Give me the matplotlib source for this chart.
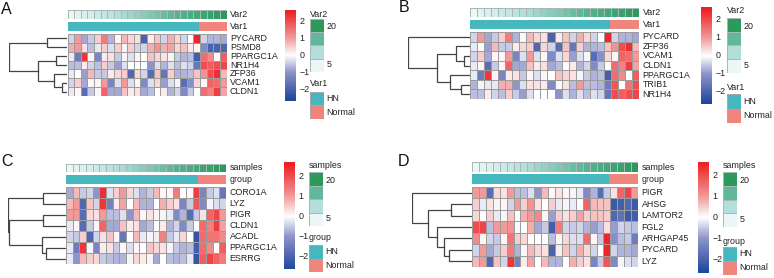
#!/usr/bin/env python3
import numpy as np
import matplotlib
matplotlib.use('Agg')
import matplotlib.pyplot as plt
from matplotlib.colors import LinearSegmentedColormap, ListedColormap, Normalize

plt.rcParams['font.family'] = ['Liberation Sans', 'DejaVu Sans']

W, H = 774, 278

# ── Valores por gene (24 amostras) ────────────────────────────────────────────
PYCARD   = [-0.4,1.0,-0.8,-0.5,0.5,1.4,-0.7,0.1,0.7,0.4,0.3,-2.0,0.2,0.6,-0.4,0.8,0.4,-0.4,0.0,2.5,-0.4,-0.7,-0.7,-0.8]
PSMD8    = [0.8,1.0,0.3,-0.6,-0.2,0.5,-0.3,0.5,-0.1,0.5,-0.4,-0.4,0.8,1.1,0.8,0.9,0.4,0.6,0.2,0.1,-1.2,-2.0,-2.0,-1.9]
PPARGC1A = [-0.2,-1.5,2.3,-0.1,-1.3,0.2,0.3,-0.5,0.1,-0.3,0.1,0.0,0.6,0.4,0.3,-0.1,-0.5,-0.7,-0.6,-2.1,1.6,1.2,0.0,1.8]
NR1H4    = [-0.6,-0.6,0.2,-0.4,-0.6,0.5,-0.5,-0.9,-0.3,0.0,0.0,0.0,-1.0,-0.3,-0.7,-0.3,-0.6,-0.3,-0.4,-1.6,2.0,1.8,2.0,2.1]
ZFP36    = [-0.2,0.0,-0.9,0.7,-0.5,-0.5,0.2,0.4,0.5,-1.9,0.4,-0.4,-1.8,0.6,-1.6,0.5,-0.7,-0.7,-0.6,0.6,1.1,2.0,2.4,0.7]
VCAM1    = [-0.4,0.5,-0.8,0.1,0.1,1.0,-1.3,-0.3,1.0,-0.3,0.1,-1.2,-0.3,0.4,-0.9,-0.3,-0.1,-1.8,-1.1,0.4,0.1,1.7,1.6,1.0]
CLDN1    = [-0.2,0.1,-1.8,-0.5,0.1,1.7,-0.8,-0.8,0.6,0.2,0.3,-0.8,-0.6,0.0,0.2,-0.7,-0.4,-1.2,-0.5,0.0,1.6,1.3,2.2,0.9]
TRIB1    = [-0.7,-0.1,-0.2,-0.2,0.8,0.8,-1.0,-0.3,0.3,0.3,0.2,-1.2,0.1,0.3,-0.6,1.0,-0.6,-0.6,-0.7,-1.5,1.9,0.0,1.5,2.0]
CORO1A   = [-0.8,0.7,-0.5,-0.4,-1.0,2.4,-0.3,0.5,1.0,0.4,-0.3,-0.7,-0.5,0.7,0.1,0.1,1.4,0.0,0.1,2.2,-1.3,-0.5,-0.3,-1.6]
LYZ      = [0.7,1.0,-1.9,0.6,-0.4,2.3,-1.4,0.2,0.9,0.0,0.7,-0.7,-0.7,0.0,0.8,0.5,0.3,-1.3,-0.5,1.9,-1.2,-0.1,-0.3,-0.4]
PIGR     = [1.0,1.0,-1.8,0.4,0.3,1.0,-0.6,-0.6,-0.3,-1.0,0.7,0.1,0.3,0.1,-0.1,-0.2,-1.2,-0.7,-1.8,-0.5,0.3,1.7,2.1,1.0]
ACADL    = [-0.4,-0.5,0.5,-1.9,-0.4,0.3,0.6,0.1,-1.6,0.0,0.7,-0.2,-0.1,0.2,1.3,-0.5,-0.2,0.4,0.0,-2.3,1.6,1.5,1.5,1.2]
ESRRG    = [-0.2,-1.0,0.7,0.5,0.4,-0.5,-0.6,-0.7,-0.7,-0.1,0.4,0.2,-0.1,-0.8,0.0,-0.6,-0.7,-0.6,-0.2,-2.3,1.8,2.1,1.7,1.4]
AHSG     = [0.5,-0.2,0.3,-0.1,0.1,-0.4,1.0,0.5,1.1,0.3,0.0,0.5,-0.2,-0.1,-0.2,0.0,1.7,0.7,0.6,0.6,-2.2,-2.1,-1.9,-2.2]
LAMTOR2  = [0.4,0.0,0.5,-0.2,-0.1,0.6,0.0,0.8,1.0,1.2,-0.1,-0.9,0.5,0.3,0.5,0.9,0.5,0.6,0.6,0.5,-1.9,-1.7,-2.2,-2.1]
FGL2     = [2.0,2.1,-0.6,1.0,1.0,1.1,0.0,0.0,0.8,-0.8,-0.5,-2.1,1.4,-0.4,-0.5,-0.4,-0.7,-0.9,-0.6,0.3,-0.9,-0.4,-0.5,-0.6]
ARHGAP45 = [1.2,0.1,-0.4,-0.5,0.1,1.5,0.5,0.4,0.0,0.0,0.0,-0.6,0.1,0.4,-0.3,-0.3,1.6,0.1,-0.5,2.5,-1.1,-0.6,-0.5,-1.5]

SAMPLES = [1,2,3,4,5,6,7,8,9,10,11,12,13,14,15,16,17,18,19,20,21,22,23,24]
GROUP   = [0,0,0,0,0,0,0,0,0,0,0,0,0,0,0,0,0,0,0,0,1,1,1,1]
GROUP_NAMES = ['HN', 'Normal']
CBAR_TICKS = [2, 1, 0, -1, -2]

# ── Genes e árvores por painel: (ramo esquerdo, ramo direito, altura) ─────────
GENES_A = ['PYCARD','PSMD8','PPARGC1A','NR1H4','ZFP36','VCAM1','CLDN1']
ROWS_A  = [PYCARD, PSMD8, PPARGC1A, NR1H4, ZFP36, VCAM1, CLDN1]
TREE_A  = [(0,1,20),(2,3,11),(5,6,5),(4,9,13),(8,10,29),(7,11,58)]

GENES_B = ['PYCARD','ZFP36','VCAM1','CLDN1','PPARGC1A','TRIB1','NR1H4']
ROWS_B  = [PYCARD, ZFP36, VCAM1, CLDN1, PPARGC1A, TRIB1, NR1H4]
TREE_B  = [(2,3,6),(1,7,14),(5,6,9),(4,9,20),(8,10,33),(0,11,62)]

GENES_C = ['CORO1A','LYZ','PIGR','CLDN1','ACADL','PPARGC1A','ESRRG']
ROWS_C  = [CORO1A, LYZ, PIGR, CLDN1, ACADL, PPARGC1A, ESRRG]
TREE_C  = [(0,1,23),(2,3,23),(5,6,20),(4,9,24),(8,10,57),(7,11,58)]

GENES_D = ['PIGR','AHSG','LAMTOR2','FGL2','ARHGAP45','PYCARD','LYZ']
ROWS_D  = [PIGR, AHSG, LAMTOR2, FGL2, ARHGAP45, PYCARD, LYZ]
TREE_D  = [(1,2,21),(5,6,23),(4,8,28),(3,9,35),(7,10,44),(0,11,60)]

# ── Cores ─────────────────────────────────────────────────────────────────────
GRID = '#9c9c9c'
heat_norm = Normalize(-2.6, 2.6)
heat_cmap = LinearSegmentedColormap.from_list('heat', [
    (0.0, '#22479d'), (1.6 / 5.2, '#8e94ca'), (0.5, '#ffffff'), (3.6 / 5.2, '#f29a9a'), (1.0, '#ee2024')])
samp_cmap = LinearSegmentedColormap.from_list('samp', ['#ecf6f6', '#aedcd8', '#5cb598', '#2b9a5c'])
group_cmap = ListedColormap(['#46b7be', '#f0857e'])

# ── Posição em pixels de cada painel ──────────────────────────────────────────
LAYOUT = {
    'A': dict(letter=(1, 9), heat=(67.5, 34, 226.5, 96), top=(10, 19), bot=(22, 31), tree=9, cbar=(285, 9.5, 296, 101),
              vmax=2.7, vmin=-2.68, sw1=(310, 19, 324, 72), sw2=(310, 92, 324, 119), t1=14.5, t2=84),
    'B': dict(letter=(399, 8), heat=(470, 32, 639, 99), top=(8, 17), bot=(20, 29), tree=408, cbar=(701, 7, 712, 104),
              vmax=2.72, vmin=-2.67, sw1=(727, 18, 741, 73), sw2=(727, 94, 741, 123), t1=10.5, t2=87),
    'C': dict(letter=(1, 161), heat=(66, 187, 226, 264), top=(164, 172), bot=(175, 184), tree=8, cbar=(284, 162, 295, 269),
              vmax=2.7, vmin=-2.6, sw1=(309, 172, 323, 226), sw2=(309, 245, 323, 272), t1=166, t2=237),
    'D': dict(letter=(398, 161), heat=(472, 187, 638, 267), top=(162, 172), bot=(174, 184), tree=412, cbar=(698, 162, 709, 273),
              vmax=2.65, vmin=-2.65, sw1=(723, 172, 737, 227), sw2=(723, 247, 737, 275), t1=166, t2=242),
}


def box(x0, y0, x1, y1):
    """Cria um eixo a partir de pixels (origem no canto superior esquerdo)."""
    ax = fig.add_axes([x0 / W, 1 - y1 / H, (x1 - x0) / W, (y1 - y0) / H])
    ax.set_xticks([])
    ax.set_yticks([])
    for s in ax.spines.values():
        s.set_visible(False)
    return ax


def label(x, y, s, size=6.4, **kw):
    fig.text(x / W, 1 - y / H, s, fontsize=size, va='center', ha='left', color='#222222', **kw)


def cells(ax, values, cmap, norm, grid=GRID):
    ax.pcolormesh(np.array(values, float), cmap=cmap, norm=norm, edgecolors=grid, linewidth=0.7)
    ax.set_ylim(len(values), 0)


def draw_tree(ax, tree):
    pos = {i: i + 0.5 for i in range(7)}
    hgt = {i: 0 for i in range(7)}
    for k, (a, b, h) in enumerate(tree):
        ax.plot([hgt[a], h, h, hgt[b]], [pos[a], pos[a], pos[b], pos[b]], color='#444444', lw=0.9, solid_joinstyle='miter')
        pos[7 + k] = (pos[a] + pos[b]) / 2
        hgt[7 + k] = h


def panel(name, genes, rows, tree, top_name, bot_name):
    L = LAYOUT[name]
    fig.text(L['letter'][0] / W, 1 - L['letter'][1] / H, name, fontsize=11.5, va='center', ha='left', color='#111111')
    x0, y0, x1, y1 = L['heat']

    ax = box(x0, y0, x1, y1)
    cells(ax, rows, heat_cmap, heat_norm)
    row_h = (y1 - y0) / len(genes)
    for i, g in enumerate(genes):
        label(x1 + 3.5, y0 + (i + 0.5) * row_h, g)

    ax = box(x0, L['top'][0], x1, L['top'][1])
    cells(ax, [SAMPLES], samp_cmap, Normalize(1, 24), grid='#a8b8b4')
    label(x1 + 3.5, sum(L['top']) / 2, top_name)
    ax = box(x0, L['bot'][0], x1, L['bot'][1])
    ax.pcolormesh(np.array([GROUP]), cmap=group_cmap, vmin=0, vmax=1, edgecolors='face', linewidth=0.3)
    label(x1 + 3.5, sum(L['bot']) / 2, bot_name)

    ax = box(L['tree'], y0, x0, y1)
    draw_tree(ax, tree)
    ax.set_xlim(x0 - L['tree'], 0)
    ax.set_ylim(7, 0)
    ax.patch.set_alpha(0)

    cx0, cy0, cx1, cy1 = L['cbar']
    ax = box(cx0, cy0, cx1, cy1)
    ax.imshow(np.linspace(L['vmax'], L['vmin'], 256)[:, None], cmap=heat_cmap, norm=heat_norm, aspect='auto',
              extent=[0, 1, L['vmin'], L['vmax']])
    span = (cy1 - cy0) / (L['vmax'] - L['vmin'])
    for t in CBAR_TICKS:
        y = cy0 + (L['vmax'] - t) * span
        label(cx1 + 3.5, y, str(t).replace('-', '\u2212'))

    sx0, sy0, sx1, sy1 = L['sw1']
    ax = box(sx0, sy0, sx1, sy1)
    ax.pcolormesh(np.array([[1], [8], [16], [24]], float), cmap=samp_cmap, norm=Normalize(1, 24), edgecolors='#a8b8b4', linewidth=0.5)
    label(sx0, L['t1'], top_name)
    label(sx1 + 2.5, sy0 + (sy1 - sy0) * 0.15, '20')
    label(sx1 + 2.5, sy0 + (sy1 - sy0) * 0.86, '5')

    gx0, gy0, gx1, gy1 = L['sw2']
    ax = box(gx0, gy0, gx1, gy1)
    ax.pcolormesh(np.array([[1], [0]]), cmap=group_cmap, vmin=0, vmax=1, edgecolors='#a8a8a8', linewidth=0.5)
    label(gx0, L['t2'], bot_name)
    for i, g in enumerate(GROUP_NAMES):
        label(gx1 + 2.5, gy0 + (i + 0.5) * (gy1 - gy0) / 2, g)


fig = plt.figure(figsize=(W / 100, H / 100), dpi=100)
panel('A', GENES_A, ROWS_A, TREE_A, 'Var2', 'Var1')
panel('B', GENES_B, ROWS_B, TREE_B, 'Var2', 'Var1')
panel('C', GENES_C, ROWS_C, TREE_C, 'samples', 'group')
panel('D', GENES_D, ROWS_D, TREE_D, 'samples', 'group')
fig.savefig('out.png', dpi=100)
